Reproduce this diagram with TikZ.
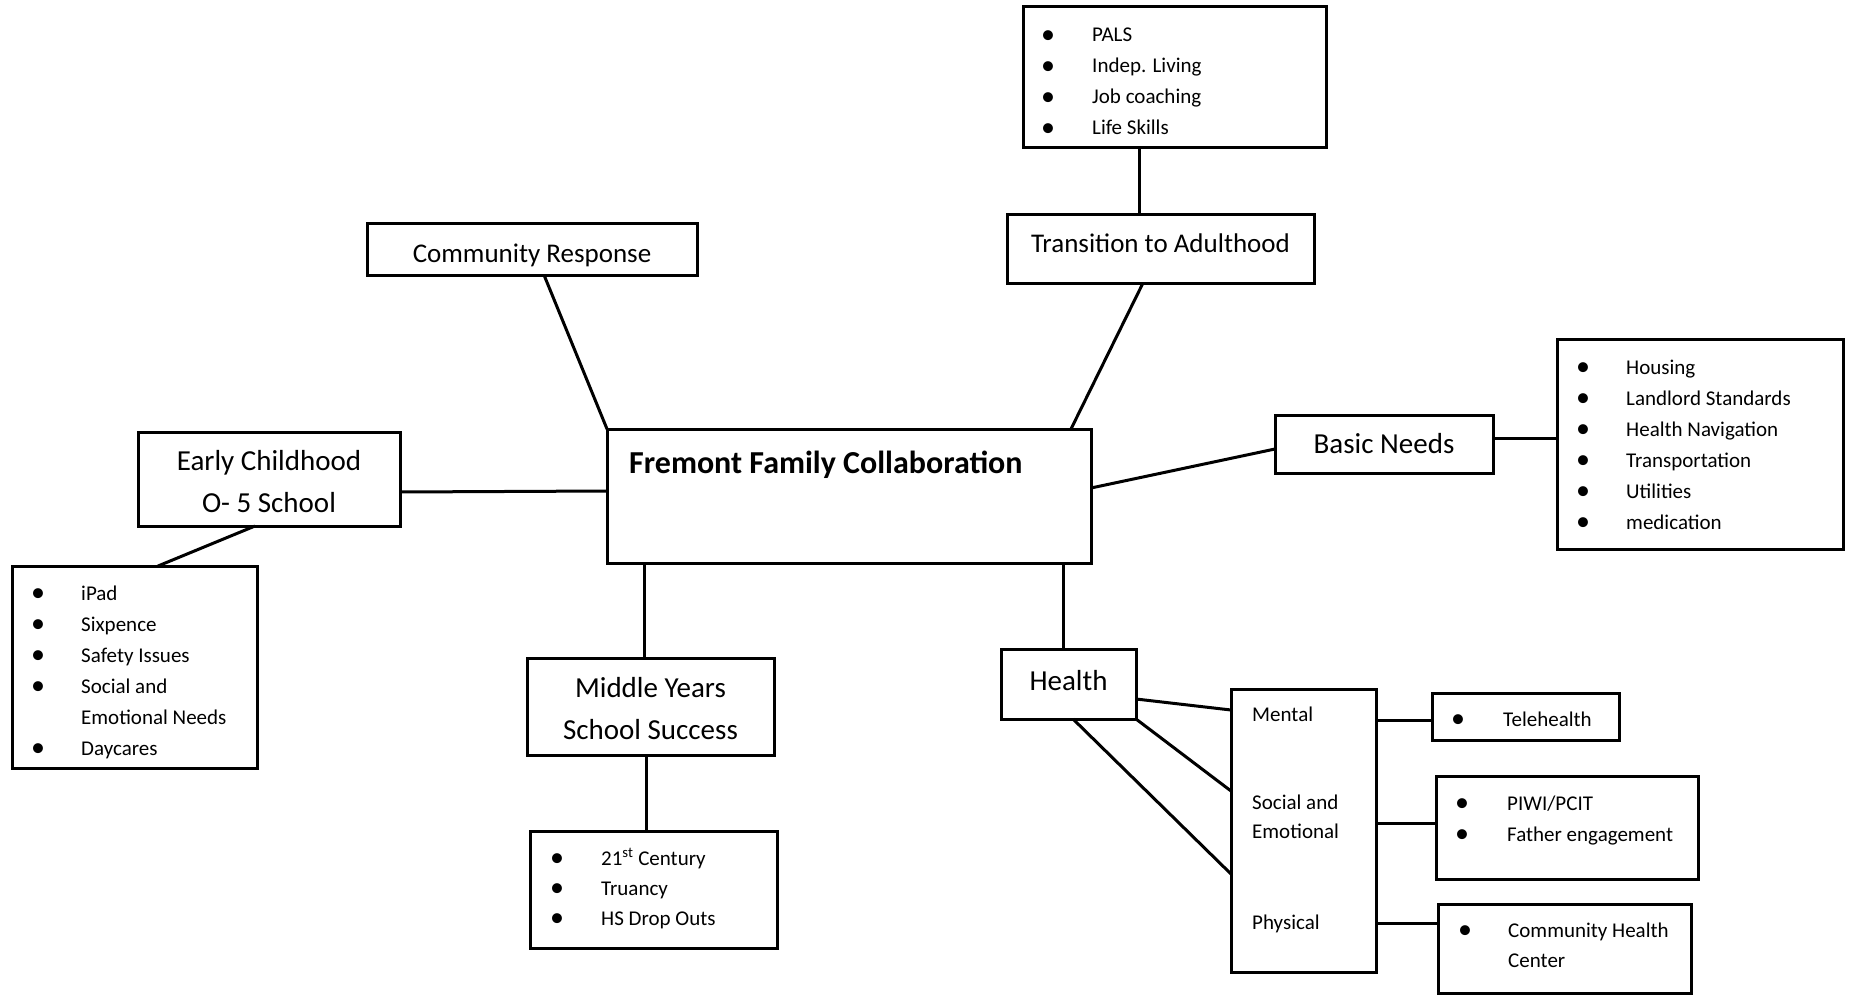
\documentclass[tikz,border=0pt]{standalone}
\usepackage{fontspec}
\setmainfont{Carlito}
\begin{document}
\begin{tikzpicture}[x=1pt,y=-1pt,
  box/.style={draw, line width=3pt, inner sep=0pt, outer sep=0pt},
  conn/.style={line width=3pt},
  item/.style={anchor=base west, inner sep=0pt, font=\fontsize{21}{31}\selectfont},
  bul/.style={inner sep=0pt, font=\fontsize{28}{28}\selectfont},
  lbl/.style={inner sep=0pt, align=center, font=\fontsize{29}{42}\selectfont},
  lbls/.style={inner sep=0pt, align=center, font=\fontsize{27}{40}\selectfont}]
\useasboundingbox (0,0) rectangle (1851,995);
\fill[white] (0,0) rectangle (1851,995);

% boxes
\node[box, minimum width=303pt, minimum height=141pt] (pals) at (1174.5,77.5) {};
\node[box, minimum width=307pt, minimum height=69pt] (trans) at (1160.5,248.5) {};
\node[box, minimum width=330pt, minimum height=52pt] (comm) at (532,249) {};
\node[box, minimum width=484pt, minimum height=134pt] (central) at (849,496) {};
\node[box, minimum width=262pt, minimum height=94pt] (early) at (269,479) {};
\node[box, minimum width=245pt, minimum height=202pt] (earlylist) at (134.5,667) {};
\node[box, minimum width=247pt, minimum height=97pt] (middle) at (650.5,706.5) {};
\node[box, minimum width=247pt, minimum height=117pt] (midlist) at (653.5,889.5) {};
\node[box, minimum width=135pt, minimum height=70pt] (health) at (1068.5,684) {};
\node[box, minimum width=145pt, minimum height=283pt] (sub) at (1303.5,830.5) {};
\node[box, minimum width=187pt, minimum height=47pt] (tele) at (1525.5,716.5) {};
\node[box, minimum width=262pt, minimum height=103pt] (piwi) at (1567,827.5) {};
\node[box, minimum width=253pt, minimum height=89pt] (chc) at (1564.5,948.5) {};
\node[box, minimum width=218pt, minimum height=58pt] (basic) at (1384,444) {};
\node[box, minimum width=286pt, minimum height=210pt] (basiclist) at (1700,444) {};

% box labels
\node[lbls] (transT) at (1160.5,243.5) {Transition to Adulthood};
\node[lbls] (commT) at (532,255) {Community Response};
\node[anchor=base west, inner sep=0pt, font=\fontsize{32}{38}\selectfont\bfseries] (title) at (629,473) {Fremont Family Collaboration};
\node[lbl] (earlyT) at (269,482) {Early Childhood\\O- 5 School};
\node[lbl] (middleT) at (650.5,709) {Middle Years\\School Success};
\node[lbl] (healthT) at (1068.5,680.5) {Health};
\node[lbl] (basicT) at (1384,444) {Basic Needs};

% connectors
\draw[conn] ([xshift=116pt]pals.south west) -- ([xshift=132pt]trans.north west);
\draw[conn] ([xshift=136pt]trans.south west) -- ([xshift=464pt]central.north west);
\draw[conn] ([xshift=177pt]comm.south west) -- (central.north west);
\draw[conn] ([yshift=-13pt]early.east) -- ([yshift=5pt]central.west);
\draw[conn] ([xshift=117pt]early.south west) -- ([xshift=146pt]earlylist.north west);
\draw[conn] ([xshift=37pt]central.south west) -- ([xshift=117pt]middle.north west);
\draw[conn] ([xshift=119pt]middle.south west) -- ([xshift=116pt]midlist.north west);
\draw[conn] ([xshift=456pt]central.south west) -- ([xshift=62pt]health.north west);
\draw[conn] ([yshift=8pt]central.east) -- ([yshift=-5pt]basic.west);
\draw[conn] ([yshift=6pt]basic.east) -- ([yshift=6pt]basiclist.west);
\draw[conn] ([yshift=-50pt]health.north east) -- ([yshift=-21pt]sub.north west);
\draw[conn] (health.south east) -- ([yshift=-102pt]sub.north west);
\draw[conn] ([xshift=72pt]health.south west) -- ([yshift=-185pt]sub.north west);
\draw[conn] ([yshift=-31pt]sub.north east) -- ([yshift=-3.5pt]tele.west);
\draw[conn] ([yshift=-134pt]sub.north east) -- ([yshift=4.5pt]piwi.west);
\draw[conn] ([yshift=-234pt]sub.north east) -- ([yshift=25.5pt]chc.west);

% PALS list
\node[bul] (pb1) at (1048,37) {•};  \node[item] (p1) at (1092,42) {PALS};
\node[bul] (pb2) at (1048,68) {•};  \node[item] (p2) at (1092,73) {Indep. Living};
\node[bul] (pb3) at (1048,99) {•};  \node[item] (p3) at (1092,104) {Job coaching};
\node[bul] (pb4) at (1048,130) {•}; \node[item] (p4) at (1092,135) {Life Skills};

% early childhood list
\node[bul] (eb1) at (38,595) {•}; \node[item] (e1) at (81,600) {iPad};
\node[bul] (eb2) at (38,626) {•}; \node[item] (e2) at (81,631) {Sixpence};
\node[bul] (eb3) at (38,657) {•}; \node[item] (e3) at (81,662) {Safety Issues};
\node[bul] (eb4) at (38,688) {•}; \node[item] (e4) at (81,693) {Social and};
\node[item] (e5) at (81,724) {Emotional Needs};
\node[bul] (eb6) at (38,750) {•}; \node[item] (e6) at (81,755) {Daycares};

% middle years list
\node[bul] (mb1) at (557,860) {•}; \node[item] (m1) at (601,865) {21\textsuperscript{st} Century};
\node[bul] (mb2) at (557,890) {•}; \node[item] (m2) at (601,895) {Truancy};
\node[bul] (mb3) at (557,920) {•}; \node[item] (m3) at (601,925) {HS Drop Outs};

% basic needs list
\node[bul] (bb1) at (1583,369) {•}; \node[item] (b1) at (1626,374) {Housing};
\node[bul] (bb2) at (1583,400) {•}; \node[item] (b2) at (1626,405) {Landlord Standards};
\node[bul] (bb3) at (1583,431) {•}; \node[item] (b3) at (1626,436) {Health Navigation};
\node[bul] (bb4) at (1583,462) {•}; \node[item] (b4) at (1626,467) {Transportation};
\node[bul] (bb5) at (1583,493) {•}; \node[item] (b5) at (1626,498) {Utilities};
\node[bul] (bb6) at (1583,524) {•}; \node[item] (b6) at (1626,529) {medication};

% health sub-areas
\node[item] (mental) at (1252,721) {Mental};
\node[item] (social) at (1252,809) {Social and};
\node[item] (emot) at (1252,838) {Emotional};
\node[item] (phys) at (1252,929) {Physical};

% health lists
\node[bul] (tb1) at (1458,721) {•}; \node[item] (t1) at (1503,726) {Telehealth};
\node[bul] (ib1) at (1462,805) {•}; \node[item] (i1) at (1507,810) {PIWI/PCIT};
\node[bul] (ib2) at (1462,836) {•}; \node[item] (i2) at (1507,841) {Father engagement};
\node[bul] (cb1) at (1465,932) {•}; \node[item] (c1) at (1508,937) {Community Health};
\node[item] (c2) at (1508,967) {Center};
\end{tikzpicture}
\end{document}
